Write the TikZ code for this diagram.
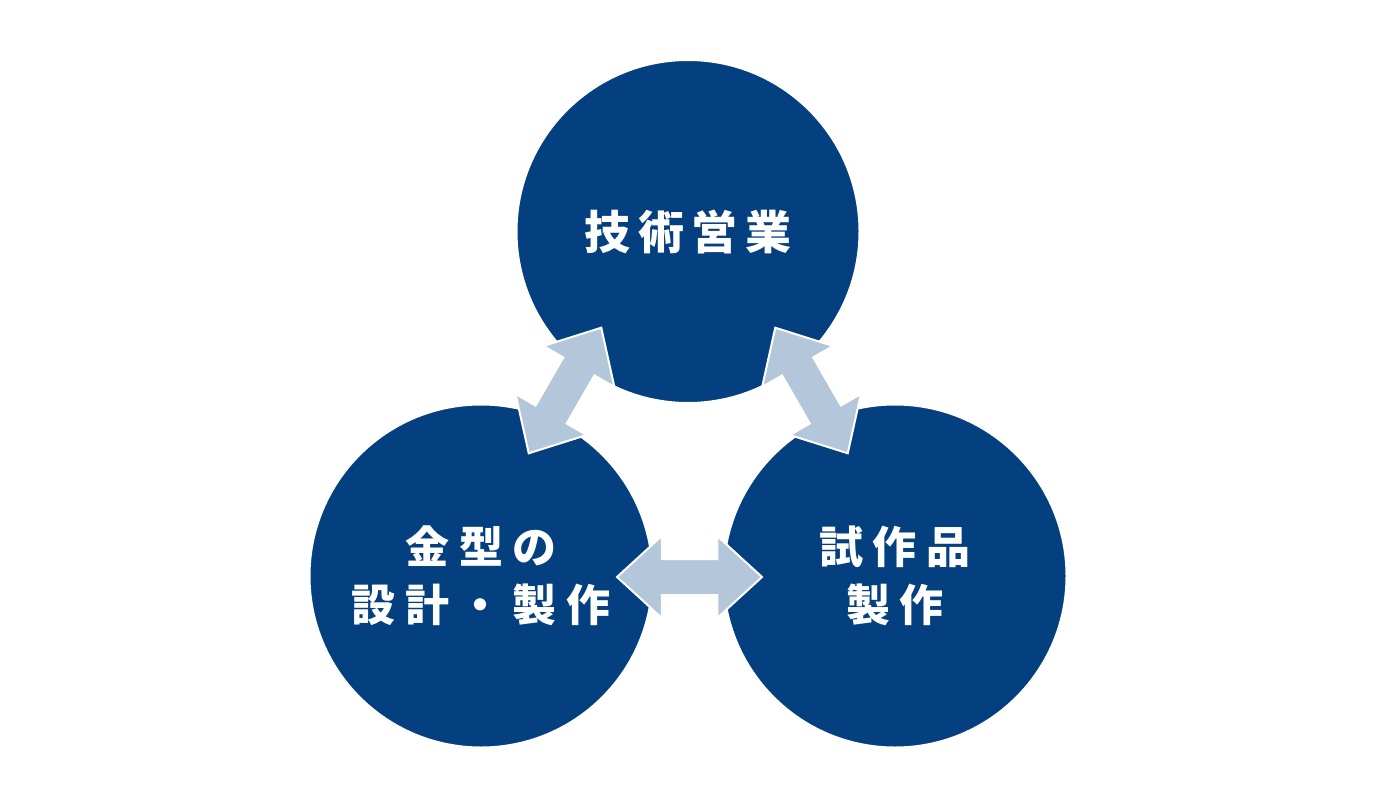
\documentclass[tikz,border=0pt]{standalone}
\usepackage{fontspec}
\usetikzlibrary{shapes.arrows}
\newfontfamily\jpbig{Noto Sans CJK JP}[LetterSpace=16]
\newfontfamily\jpmid{Noto Sans CJK JP}[LetterSpace=22]
\definecolor{navy}{RGB}{4,63,128}
\definecolor{paleblue}{RGB}{179,198,218}
\begin{document}
\begin{tikzpicture}[x=1pt,y=-1pt,
  bubble/.style={circle, minimum size=343pt, inner sep=0pt, fill=navy, draw=white, line width=2pt,
    text=white, align=center},
  dblarrow/.style={double arrow, fill=paleblue, draw=white, line width=2pt,
    minimum height=145pt, minimum width=80pt, inner xsep=0pt, inner ysep=17pt,
    double arrow head extend=23pt, double arrow tip angle=85},
  bigtext/.style={font=\jpbig\bfseries\fontsize{46pt}{58pt}\selectfont},
  midtext/.style={font=\jpmid\bfseries\fontsize{44pt}{58pt}\selectfont}
]
\useasboundingbox (0,0) rectangle (1376,808);
\node[bubble, bigtext] (T) at (688,231.5) {技術営業};
\node[bubble, midtext] (L) at (481,576) {金型の\\設計・製作};
\node[bubble, midtext] (R) at (895,576) {試作品\\製作};
\node[dblarrow, rotate=60] (aTL) at (565,390.5) {};
\node[dblarrow, rotate=-60] (aTR) at (811.5,390.5) {};
\node[dblarrow] (aLR) at (689.5,577) {};
\end{tikzpicture}
\end{document}
